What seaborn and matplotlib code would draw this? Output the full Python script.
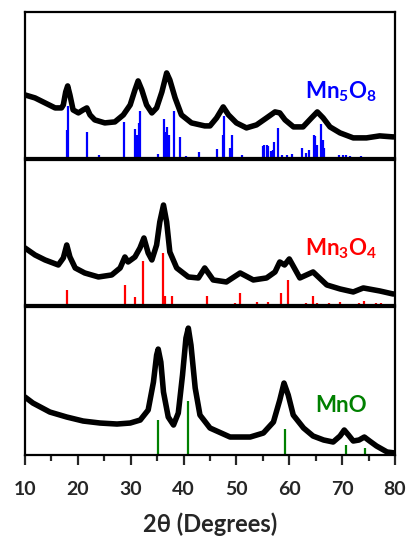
import numpy as np
import pandas as pd
import matplotlib
matplotlib.use("Agg")
import matplotlib.pyplot as plt
import seaborn as sns

sns.set_style("white")
plt.rcParams["font.family"] = ["Lato", "DejaVu Sans"]
plt.rcParams["font.weight"] = "bold"
plt.rcParams["mathtext.fontset"] = "custom"
plt.rcParams["mathtext.bf"] = "Lato:bold"
plt.rcParams["mathtext.rm"] = "Lato:bold"

# ---- measured patterns (2theta in degrees, intensity in a.u.) ----
mn5o8_2t = [10.0, 11.9, 13.8, 15.7, 16.9, 17.25, 17.7, 18.07, 18.5, 19.1, 20.1, 21.0,
            21.7, 22.3, 23.2, 25.1, 27.0, 28.6, 29.9, 30.8, 31.4, 32.1, 33.0, 34.0,
            34.9, 35.9, 36.8, 37.4, 38.4, 39.6, 41.5, 44.0, 45.0, 46.25, 47.5, 48.5,
            50.0, 51.9, 53.8, 55.7, 57.3, 58.2, 59.2, 60.8, 62.6, 64.2, 65.3, 66.4,
            67.7, 69.6, 72.1, 74.6, 77.1, 79.6, 80.0]
mn5o8_int = [63, 60, 55, 50, 50, 53, 66, 72, 63, 48, 45, 48,
             50, 43, 38, 35, 36, 43, 53, 68, 77, 68, 53, 45,
             50, 66, 85, 78, 60, 43, 35, 32, 32, 40, 51, 43,
             35, 30, 33, 40, 46, 45, 38, 31, 31, 40, 46, 40,
             31, 25, 20, 20, 22, 21, 21]

mn3o4_2t = [10.0, 11.9, 13.8, 16.3, 17.25, 17.9, 18.5, 19.5, 21.3, 23.9, 26.4, 28.0,
            28.9, 29.5, 30.8, 31.75, 32.5, 33.3, 34.0, 34.9, 35.5, 36.2, 36.8, 37.4,
            38.7, 40.9, 42.8, 44.0, 45.6, 48.1, 50.7, 53.2, 55.7, 57.3, 58.2, 59.1,
            60.0, 62.0, 64.5, 67.1, 69.6, 72.1, 74.0, 77.1, 79.6, 80.0]
mn3o4_int = [57, 50, 45, 40, 47, 60, 48, 37, 32, 28, 30, 37,
             48, 43, 48, 57, 67, 52, 45, 60, 83, 100, 83, 53,
             37, 28, 27, 37, 25, 23, 32, 25, 27, 33, 43, 40,
             46, 27, 33, 20, 16, 13, 17, 14, 11, 11]

mno_2t = [10.0, 11.5, 14.7, 17.9, 21.0, 24.2, 27.4, 29.9, 31.8, 33.3, 34.3, 34.9,
          35.2, 35.7, 36.2, 37.1, 38.1, 39.0, 39.8, 40.45, 40.9, 41.4, 42.2, 43.1,
          45.0, 48.8, 52.6, 55.1, 57.0, 58.2, 59.0, 59.8, 60.75, 62.7, 64.5, 66.5,
          68.3, 69.6, 70.4, 71.2, 72.1, 73.2, 74.2, 75.2, 76.5, 78.5, 80.0]
mno_int = [58, 52, 43, 38, 34, 32, 31, 32, 35, 45, 73, 100,
           106, 93, 63, 38, 30, 42, 80, 117, 127, 110, 67, 40,
           27, 18, 18, 22, 33, 55, 72, 60, 40, 27, 19, 15,
           13, 19, 25, 20, 14, 15, 18, 14, 9, 3, 2]

# ---- reference stick patterns ----
mn5o8_ref_2t = [17.9, 18.07, 21.7, 24.0, 28.7, 30.8, 31.1, 31.6, 31.8, 35.1,
                36.3, 36.6, 36.9, 37.2, 38.2, 39.3, 40.4, 42.9, 46.4, 47.4,
                47.6, 48.8, 49.1, 51.0, 55.0, 55.3, 55.7, 56.0, 56.5, 56.9,
                57.1, 57.9, 58.7, 59.6, 60.5, 62.5, 63.2, 63.8, 64.7, 64.9,
                65.3, 66.0, 66.3, 66.6, 69.5, 70.1, 70.7, 71.5, 73.6]
mn5o8_ref_int = [28, 52, 26, 3, 36, 29, 23, 35, 47, 4,
                 39, 26, 31, 23, 47, 21, 2, 6, 9, 23,
                 42, 10, 23, 3, 12, 13, 13, 12, 7, 8,
                 16, 30, 3, 3, 4, 10, 5, 8, 23, 22,
                 13, 34, 18, 10, 3, 3, 3, 2, 2]

mn3o4_ref_2t = [17.95, 28.9, 30.9, 32.3, 36.05, 36.5, 37.9, 44.4, 49.8, 50.7,
                53.8, 56.0, 58.4, 59.8, 60.6, 63.1, 64.5, 65.3, 67.6, 69.6,
                73.2, 74.1, 76.4, 77.3]
mn3o4_ref_int = [15, 20, 8, 44, 52, 9, 9, 9, 2, 12,
                 3, 3, 12, 25, 1, 2, 9, 2, 2, 3,
                 2, 4, 2, 2]

mno_ref_2t = [35.2, 40.8, 59.2, 70.7, 74.3]
mno_ref_int = [35, 54, 26, 10, 7]

panels = [
    (mn5o8_2t, mn5o8_int, mn5o8_ref_2t, mn5o8_ref_int, "#0000FF",
     r"$\mathbf{Mn_5O_8}$", 146, 66),
    (mn3o4_2t, mn3o4_int, mn3o4_ref_2t, mn3o4_ref_int, "#FF0000",
     r"$\mathbf{Mn_3O_4}$", 145, 56),
    (mno_2t, mno_int, mno_ref_2t, mno_ref_int, "#008000",
     "MnO", 148, 50),
]

fig = plt.figure(figsize=(4.10, 5.51), dpi=100)
gs = fig.add_gridspec(3, 1, left=25 / 410, right=395 / 410,
                      top=1 - 12 / 551, bottom=1 - 455 / 551,
                      hspace=0.015, height_ratios=[146, 145, 148])

for i, (tt, inten, rt, ri, col, label, ymax, ylab) in enumerate(panels):
    ax = fig.add_subplot(gs[i])
    df = pd.DataFrame({"two_theta": tt, "intensity": inten})
    ax.vlines(rt, 0, ri, colors=col, linewidth=1.6, zorder=2)
    sns.lineplot(data=df, x="two_theta", y="intensity", ax=ax, color="black",
                 linewidth=4.0, estimator=None, sort=False, zorder=3)
    ax.set_xlim(10, 80)
    ax.set_ylim(0, ymax)
    ax.set_yticks([])
    ax.set_ylabel("")
    ax.text(69.8, ylab, label, color=col, fontsize=16, fontweight="bold",
            ha="center", va="center")
    for s in ax.spines.values():
        s.set_linewidth(1.6)
        s.set_color("black")
    if i < 2:
        ax.set_xticks([])
        ax.set_xlabel("")
    else:
        ax.set_xticks(np.arange(10, 81, 10))
        ax.set_xticks(np.arange(15, 80, 10), minor=True)
        ax.tick_params(axis="x", which="major", direction="out", length=7,
                       width=1.6, labelsize=14, pad=12, bottom=True)
        ax.tick_params(axis="x", which="minor", direction="out", length=4,
                       width=1.6, bottom=True)
        for lab in ax.get_xticklabels():
            lab.set_fontweight("bold")
        ax.set_xlabel("2\u03b8 (Degrees)", fontsize=17, fontweight="bold",
                      labelpad=10)

fig.savefig("out.png", dpi=100)
